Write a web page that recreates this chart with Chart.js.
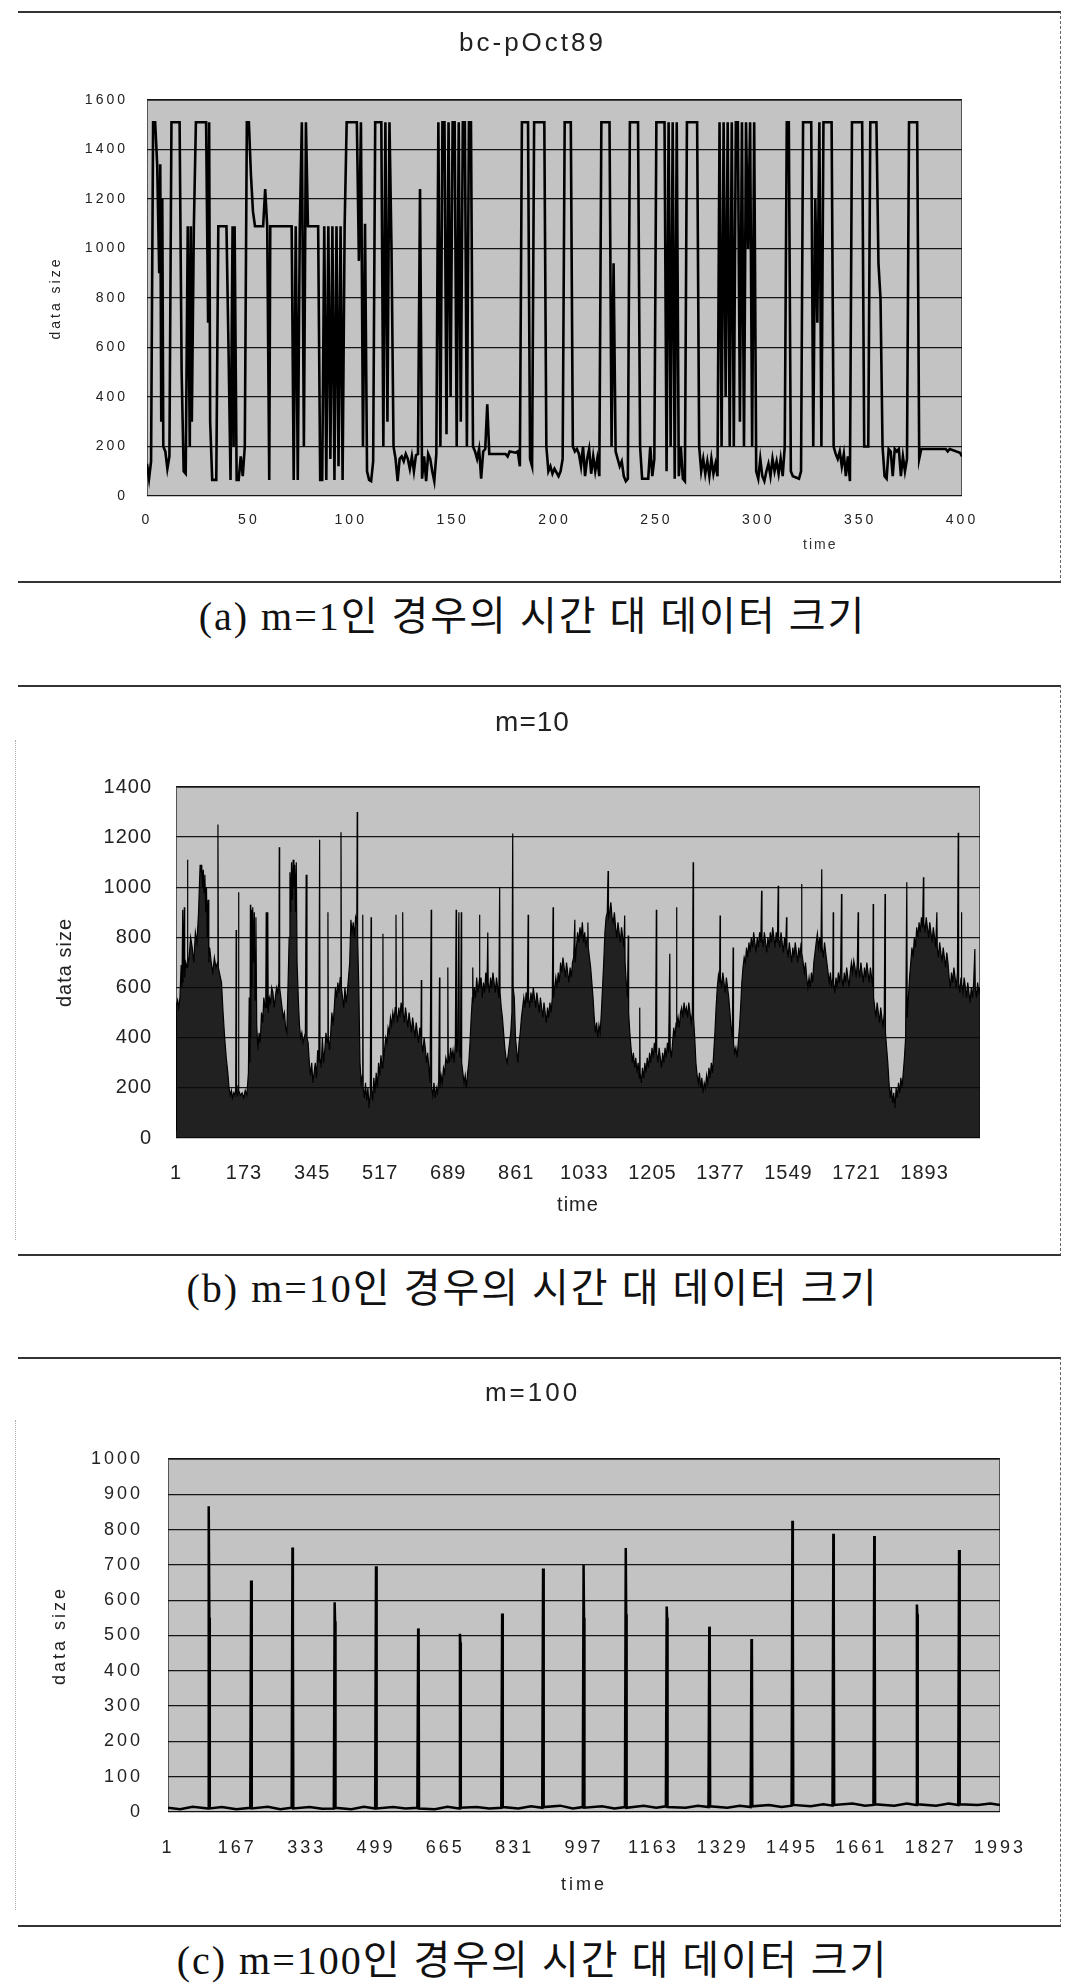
<!DOCTYPE html>
<html>
<head>
<meta charset="utf-8">
<script src="https://cdn.jsdelivr.net/npm/chart.js@4.4.1/dist/chart.umd.min.js"></script>
<style>
  body { margin: 0; background: #fff; width: 1065px; height: 1987px; position: relative; overflow: hidden; }
  .box { position: absolute; left: 18px; width: 1042px; border-top: 2px solid #333; border-bottom: 2px solid #333; border-right: 1px dashed #666; }
  .lside { position: absolute; left: 15px; border-left: 1px dotted #aaa; }
  canvas { position: absolute; left: 0; }
  .cap { position: absolute; left: 0; width: 1065px; text-align: center; font-family: "Liberation Serif", "Noto Sans CJK KR", serif; font-size: 40px; line-height: 46px; letter-spacing: 2px; color: #111; }
  .xt { position: absolute; font-family: "Liberation Sans", sans-serif; font-size: 14px; letter-spacing: 2px; color: #333; }
</style>
</head>
<body>
<div class="box" style="top:11px;height:568px"></div>
<canvas id="c1" width="1065" height="568" style="top:12px"></canvas>
<div class="xt" style="left:803px;top:536px">time</div>
<div class="cap" style="top:594px">(a) m=1인 경우의 시간 대 데이터 크기</div>

<div class="box" style="top:685px;height:567px"></div>
<div class="lside" style="top:740px;height:500px"></div>
<canvas id="c2" width="1065" height="567" style="top:686px"></canvas>
<div class="cap" style="top:1266px">(b) m=10인 경우의 시간 대 데이터 크기</div>

<div class="box" style="top:1357px;height:566px"></div>
<div class="lside" style="top:1420px;height:490px"></div>
<canvas id="c3" width="1065" height="566" style="top:1358px"></canvas>
<div class="cap" style="top:1938px">(c) m=100인 경우의 시간 대 데이터 크기</div>

<script>
// (a) m=1, trace bc-pOct89: [time, data size]
const traceM1 = [
  [0,130],[1,70],[2,140],[3,1510],[4,1510],[5,1340],[6,900],[6.5,1340],[7,300],[7.5,1200],[8,200],[9,180],[10,110],[11,160],
  [12,1510],[16,1510],[17,500],[18,100],[19,90],[20,1090],[21,200],[21.5,1090],[22,300],[23,1090],[24,1510],[29,1510],[30,700],[30.5,1510],
  [31,300],[32,65],[34,65],[35,1090],[39,1090],[40,600],[41,65],[42,1090],[42.5,200],[43,1090],[44,65],[45,65],[46,160],[47,80],[48,200],
  [49,1510],[50,1510],[51,1300],[52,1150],[53,1090],[57,1090],[58,1240],[59,1090],[60,65],[60.5,1090],[71,1090],[72,65],[73,1090],[74,65],
  [75,1090],[76,1510],[77,200],[78,1510],[79,1090],[84,1090],[85,65],[86,65],[87,1090],[88,65],[89,1090],[90,150],[91,1090],[92,65],
  [93,1090],[94,120],[95,1090],[96,65],[97,1090],[98,1510],[103,1510],[104,950],[105,1510],[106,200],[107,1100],[108,100],[109,65],[110,60],
  [111,140],[112,1510],[115,1510],[116,200],[117,1510],[118,300],[119,1510],[120,1000],[121,200],[122,150],[123,60],[124,150],[125,160],
  [126,140],[127,170],[128,150],[129,110],[130,160],[131,100],[132,165],[133,170],[134,1240],[135,70],[136,160],[137,60],[138,170],[139,150],
  [140,100],[141,60],[142,170],[143,1510],[144,200],[145,1510],[146,1510],[147,250],[148,1510],[149,400],[150,1510],[151,1510],[152,200],
  [153,1510],[154,300],[155,1510],[156,1510],[157,200],[158,1510],[159,1510],[160,200],[161,180],[162,150],[163,190],[164,70],[165,180],
  [166,190],[167,370],[168,170],[176,170],[177,160],[178,180],[181,175],[182,180],[183,120],[184,1510],[187,1510],[188,150],[189,120],
  [190,1510],[195,1510],[196,200],[197,100],[198,120],[199,90],[200,110],[202,80],[203,100],[204,150],[205,1510],[208,1510],[209,200],
  [210,180],[211,190],[212,170],[213,120],[214,200],[215,80],[216,150],[217,190],[218,90],[219,160],[220,100],[221,150],[222,80],
  [223,1510],[227,1510],[228,200],[229,940],[230,180],[231,150],[232,120],[233,140],[234,80],[235,60],[236,70],[237,1510],[241,1510],
  [242,200],[243,70],[246,70],[247,200],[248,80],[249,150],[250,1510],[254,1510],[255,100],[256,1510],[257,200],[258,1510],[259,70],
  [260,1510],[261,80],[262,200],[263,70],[264,60],[265,1510],[270,1510],[271,200],[272,100],[273,150],[274,90],[275,140],[276,80],
  [277,150],[278,90],[279,130],[280,80],[281,1510],[282,200],[283,1510],[284,400],[285,1510],[286,200],[287,1510],[288,200],[289,1510],
  [290,1510],[291,300],[292,1510],[293,200],[294,1510],[295,1000],[296,1510],[297,200],[298,1510],[299,100],[300,70],[301,150],[302,80],
  [303,60],[304,100],[305,130],[306,80],[307,150],[308,100],[309,140],[310,90],[311,150],[312,80],[313,200],[314,1510],[315,1510],
  [316,100],[317,80],[320,70],[321,100],[322,1510],[326,1510],[327,200],[328,1200],[329,700],[330,1510],[331,200],[332,1510],[336,1510],
  [337,200],[338,170],[339,150],[340,180],[341,120],[342,170],[343,80],[344,160],[345,60],[346,1510],[351,1510],[352,200],[354,200],
  [355,1510],[358,1510],[359,940],[360,800],[361,200],[362,80],[363,70],[364,190],[365,180],[366,80],[367,190],[368,180],[369,190],
  [370,80],[371,160],[372,100],[373,150],[374,1510],[378,1510],[379,150],[380,190],[392,190],[393,180],[394,190],[399,175],[400,160]
];

// (b) m=10: tick labels and [time, data size]
const xTicksM10 = [1, 173, 345, 517, 689, 861, 1033, 1205, 1377, 1549, 1721, 1893];
const traceM10 = [
  [1,30],[2,530],[5,550],[8,520],[11,560],[14,690],[16,600],[18,910],[19,620],[22,920],[23,640],[26,700],[29,680],[30,1110],[31,690],
  [34,720],[38,800],[42,760],[46,700],[50,820],[54,780],[58,900],[60,1000],[62,1090],[64,1060],[66,1090],[68,1000],[70,1070],[72,980],
  [74,1050],[76,900],[78,1000],[80,800],[82,950],[84,700],[86,760],[90,700],[94,660],[98,720],[102,680],[106,700],[107,1250],[108,680],
  [112,650],[116,620],[120,500],[124,400],[128,320],[132,260],
  [135,200],[138,170],[141,190],[144,160],[147,180],[150,170],[152,200],[153,830],[154,180],[157,170],[158,210],[159,980],[160,190],
  [164,170],[168,180],[172,160],[176,190],[180,170],[184,260],[186,560],[188,300],[189,930],[190,400],[191,910],[193,600],[195,920],
  [197,700],[199,900],[201,550],[203,880],[205,450],
  [208,350],[211,420],[214,380],[217,500],[220,460],[223,560],[226,520],[228,560],[229,900],[230,540],[232,520],[233,900],[234,500],
  [237,560],[240,540],[243,600],[246,580],[249,520],[252,560],[255,600],[258,580],[261,620],[262,1160],[263,600],[266,560],[269,520],
  [272,480],[275,500],[278,440],
  [281,420],[284,600],[287,800],[289,1060],[291,900],[293,1100],[295,950],[297,1110],[299,1000],[301,1090],[303,900],[305,1100],[307,700],
  [310,560],[313,450],[316,400],[319,420],[322,380],[325,400],[328,420],[330,1050],[332,400],[335,380],[338,300],
  [341,250],[344,300],[347,220],[350,260],[353,300],[356,240],[359,350],[362,300],[364,1190],[365,320],[368,280],[371,400],[374,300],
  [377,350],[380,420],[383,380],[385,900],[386,400],[389,350],[392,420],[395,500],[398,450],[401,520],[404,600],
  [407,560],[410,620],[413,580],[416,640],[418,1220],[419,600],[422,560],[425,520],[428,600],[431,540],[434,580],[437,640],[440,700],
  [443,870],[446,820],[449,860],[452,800],[455,880],[458,860],[459,1300],[460,800],[463,600],
  [466,300],[469,220],[472,250],[473,890],[474,200],[477,160],[480,220],[483,150],[486,200],[489,120],[492,180],[494,880],[495,200],
  [498,150],[501,240],[504,180],[507,260],[510,200],[513,300],[516,250],[519,330],[522,280],[524,815],[525,300],[528,350],[531,400],
  [534,380],[537,440],[540,420],[543,480],[546,450],[549,500],[552,470],[555,520],[557,890],[558,500],[561,460],[564,520],[567,480],
  [570,540],[573,500],[574,900],[575,500],[578,460],[581,520],[584,480],[587,440],[590,500],[593,460],[596,420],[599,480],[602,440],
  [605,400],[608,460],[611,420],[614,380],[617,440],[620,400],[621,630],[622,380],[625,340],[628,400],[631,360],[634,300],[637,340],
  [640,280],
  [643,220],[646,910],[647,200],[650,170],[653,220],[656,160],[659,200],[662,180],[665,230],[667,640],[668,200],[671,250],[674,220],
  [677,280],[680,260],[683,320],[686,300],[688,680],[689,340],[692,300],[695,360],[698,320],[701,350],[704,300],[707,380],[709,910],
  [710,340],[713,380],[716,900],[717,350],[720,320],[722,900],[723,300],[726,260],[729,220],[732,250],[735,200],[738,260],[741,300],
  [744,380],
  [747,480],[750,560],[751,680],[752,540],[755,600],[758,560],[761,640],[764,580],[767,620],[768,890],[769,600],[772,640],[775,560],
  [778,620],[781,580],[784,660],[787,600],[789,820],[790,620],[793,580],[796,640],[799,600],[802,660],[805,620],[808,580],[811,640],
  [814,600],[817,560],[819,1000],[820,580],[823,520],[826,480],[829,420],[832,360],[835,320],
  [838,300],[841,340],[844,380],[847,420],[850,500],[852,1215],[853,600],[856,560],[859,400],[862,350],[865,300],[868,380],
  [871,420],[874,480],[877,520],[880,560],[883,520],[886,580],[889,540],[891,890],[892,560],[895,520],[898,580],[901,540],[904,600],
  [907,560],[910,520],[913,580],[916,540],[919,500],[922,560],[925,520],[928,480],[931,540],[934,500],[937,460],[940,520],[943,480],
  [946,540],[949,500],[952,560],
  [954,920],[955,560],[958,600],[961,640],[964,600],[967,660],[970,620],[973,700],[976,660],[979,720],[982,680],[985,640],[988,700],
  [991,660],[994,620],[997,680],[1000,640],[1003,700],[1006,720],[1009,870],[1010,700],
  [1013,760],[1016,820],[1019,780],[1022,840],[1025,800],[1028,860],[1031,780],[1034,820],[1037,760],[1040,800],[1042,860],[1043,760],
  [1046,720],[1049,680],[1052,620],[1055,560],[1058,480],[1061,420],[1064,460],[1067,400],[1070,450],[1073,420],[1076,500],[1079,600],
  [1082,700],[1085,820],[1088,880],[1091,900],[1093,1065],[1094,880],[1097,900],[1100,940],[1103,880],[1106,860],[1109,900],[1112,840],
  [1115,800],[1118,860],[1121,820],[1124,780],[1127,840],[1130,800],[1133,760],[1135,887],[1136,700],[1139,620],[1142,560],[1144,808],
  [1145,500],
  [1148,420],[1151,360],[1154,300],[1157,340],[1160,280],[1163,320],[1166,260],[1169,300],[1172,240],[1173,520],[1174,260],[1177,220],
  [1180,280],[1183,240],[1186,300],[1189,260],[1192,320],[1195,280],[1198,340],[1201,300],[1204,360],[1207,320],[1210,380],[1213,340],
  [1215,910],[1216,340],[1219,300],[1222,360],[1225,320],[1228,280],[1231,340],[1234,300],[1237,360],[1240,320],[1243,380],[1246,340],
  [1249,735],[1250,360],[1253,320],[1256,380],[1259,440],[1262,400],[1265,460],[1266,920],[1267,440],[1270,480],[1273,440],[1276,500],
  [1279,520],[1282,480],[1285,540],[1288,500],[1291,520],[1294,480],[1297,540],[1300,500],[1303,460],[1306,500],[1308,1100],[1309,480],
  [1312,400],
  [1315,300],[1318,250],[1321,220],[1324,260],[1327,200],[1330,240],[1333,180],[1336,220],[1339,200],[1342,250],[1345,220],[1348,280],
  [1351,240],[1354,300],[1357,260],[1360,340],[1363,420],
  [1366,520],[1369,600],[1372,650],[1375,620],[1376,887],[1377,640],[1380,600],[1383,660],[1386,620],[1389,580],[1392,640],[1395,600],
  [1398,560],[1401,500],[1404,440],[1407,400],[1409,760],[1410,380],[1413,340],[1416,360],[1419,320],[1422,380],[1425,440],[1428,520],
  [1431,620],[1434,680],[1437,720],[1440,700],[1443,760],[1446,720],[1449,780],[1452,740],[1455,800],[1458,760],[1461,820],[1464,780],
  [1467,740],[1470,800],[1473,760],[1476,820],[1479,780],[1481,986],[1482,800],[1485,760],[1488,820],[1491,780],[1494,740],[1497,800],
  [1500,760],[1503,820],[1506,780],[1509,840],[1512,800],[1515,760],[1518,820],[1521,780],[1523,1006],[1524,800],[1527,760],[1530,820],
  [1533,780],[1536,740],[1539,800],[1542,760],[1544,880],[1545,760],[1548,720],[1551,780],[1554,740],[1557,700],[1560,760],[1563,720],
  [1566,780],[1569,740],[1572,700],[1575,760],[1578,720],[1581,780],[1582,1013],[1583,740],[1586,700],[1589,660],[1592,700],[1595,640],
  [1598,600],
  [1601,640],[1604,600],[1607,660],[1610,620],[1613,700],[1616,740],[1619,780],[1622,815],[1625,760],[1628,800],[1631,740],[1633,1072],
  [1634,760],[1637,720],[1640,780],[1643,740],[1646,700],[1649,660],[1652,620],[1655,660],[1658,600],[1661,640],[1662,900],[1663,620],
  [1666,580],[1669,640],[1672,600],[1675,660],[1678,620],[1681,680],[1683,973],[1684,640],[1687,600],[1690,660],[1693,620],[1696,680],
  [1699,640],[1702,600],[1705,660],
  [1708,700],[1711,660],[1714,707],[1717,680],[1720,640],[1723,700],[1725,900],[1726,680],[1729,640],[1732,700],[1735,660],[1738,620],
  [1741,680],[1744,640],[1747,700],[1750,660],[1753,620],[1756,680],[1759,640],[1762,600],[1763,933],[1764,560],
  [1767,520],[1770,480],[1773,540],[1776,500],[1779,460],[1782,520],[1785,480],[1788,440],[1791,500],[1793,973],[1794,420],[1797,360],
  [1800,300],
  [1803,220],[1806,160],[1809,200],[1812,140],[1815,180],[1818,120],[1821,200],[1824,160],[1827,220],[1830,180],[1833,240],[1836,200],
  [1839,260],[1842,320],[1845,400],
  [1848,1020],[1849,480],[1852,560],[1855,640],[1858,700],[1861,760],[1864,720],[1867,800],[1870,760],[1873,840],[1876,800],[1879,860],
  [1882,820],[1885,880],[1888,840],[1890,1040],[1891,860],[1894,820],[1897,880],[1900,840],[1903,800],[1906,860],[1909,820],[1912,780],
  [1915,840],[1918,800],[1921,760],[1924,900],[1925,760],[1928,720],[1931,780],[1934,740],[1937,700],[1940,760],[1943,720],[1946,680],
  [1949,740],[1952,700],
  [1955,640],[1958,600],[1961,660],[1964,620],[1967,680],[1970,640],[1973,600],[1976,660],[1978,1218],[1979,620],[1982,580],[1985,640],
  [1986,900],[1987,620],[1990,580],[1993,640],[1996,600],[1999,560],[2002,620],[2005,580],[2008,540],[2011,600],[2014,560],[2017,620],
  [2020,754],[2021,600],[2024,560],[2027,620],[2030,580],[2033,600]
];

// (c) m=100: tick labels and [time, data size]
const xTicksM100 = [1, 167, 333, 499, 665, 831, 997, 1163, 1329, 1495, 1661, 1827, 1993];
const traceM100 = [
  [1,12],[30,8],[60,15],[97,10],[98,12],[99,866],[100,550],[101,10],[130,14],[165,8],[198,12],[200,656],[201,530],[202,10],
  [240,15],[270,8],[297,12],[299,749],[300,550],[301,10],[340,14],[370,9],[398,10],[400,594],[401,540],[402,12],[440,8],[470,15],
  [497,10],[499,696],[500,550],[501,10],[540,14],[570,10],[598,12],[600,520],[601,500],[602,10],[640,8],[670,15],[698,10],[700,505],
  [701,480],[702,12],[740,14],[770,10],[799,12],[801,562],[802,540],[803,14],[840,10],[870,16],[897,12],[899,690],[900,550],[901,14],
  [940,18],[970,10],[994,14],[996,700],[997,550],[998,12],[1040,16],[1070,10],[1095,14],[1097,748],[1098,560],[1099,12],[1140,18],
  [1170,12],[1193,16],[1195,582],[1196,550],[1197,14],[1240,12],[1270,18],[1295,14],[1297,525],[1298,500],[1299,16],[1340,12],
  [1370,18],[1396,14],[1398,490],[1399,470],[1400,16],[1440,20],[1470,14],[1494,18],[1496,825],[1497,560],[1498,20],[1540,16],
  [1570,22],[1592,18],[1594,788],[1595,570],[1596,20],[1640,24],[1670,18],[1690,20],[1692,782],[1693,560],[1694,22],[1740,18],
  [1770,24],[1792,20],[1794,588],[1795,560],[1796,22],[1840,18],[1870,24],[1893,20],[1895,742],[1896,560],[1897,22],[1940,20],
  [1970,24],[1993,20]
];

const toXY = pairs => pairs.map(([x, y]) => ({ x, y }));

// grey plot background + frame
const plotBg = {
  id: 'plotBg',
  beforeDraw(chart) {
    const { ctx, chartArea: a } = chart;
    ctx.save();
    ctx.fillStyle = '#c3c3c3';
    ctx.fillRect(a.left, a.top, a.width, a.height);
    ctx.strokeStyle = '#555';
    ctx.lineWidth = 1;
    ctx.strokeRect(a.left + 0.5, a.top + 0.5, a.width - 1, a.height - 1);
    ctx.restore();
  }
};

// the scanned labels are widely spaced
const spacing = px => ({
  id: 'spacing',
  beforeUpdate(chart) { chart.ctx.letterSpacing = px; },
  beforeDraw(chart) { chart.ctx.letterSpacing = px; }
});

// plain numbers, no thousands separator
const plain = v => String(v);

function makeChart(id, cfg) {
  const font = { family: '"Liberation Sans", Arial, sans-serif' };
  return new Chart(document.getElementById(id), {
    type: 'line',
    data: {
      datasets: [{
        data: toXY(cfg.trace),
        borderColor: '#000',
        borderWidth: cfg.lineWidth,
        backgroundColor: cfg.fillColor || 'transparent',
        fill: cfg.fillColor ? 'origin' : false,
        pointRadius: 0,
        tension: 0
      }]
    },
    options: {
      responsive: false,
      animation: false,
      layout: { padding: 0 },
      plugins: {
        legend: { display: false },
        tooltip: { enabled: false },
        title: {
          display: true,
          text: cfg.title,
          color: '#222',
          font: { ...font, size: cfg.titleSize, weight: 'normal' },
          padding: { top: cfg.titlePadTop, bottom: cfg.titlePadBottom }
        }
      },
      scales: {
        x: {
          type: 'linear',
          min: cfg.xMin,
          max: cfg.xMax,
          afterBuildTicks: cfg.xTicks ? (axis) => { axis.ticks = cfg.xTicks.map(v => ({ value: v })); } : undefined,
          afterFit: (s) => { s.height = cfg.xHeight; },
          grid: { display: false, drawTicks: false },
          border: { display: false },
          ticks: {
            stepSize: cfg.xStep,
            autoSkip: false,
            maxRotation: 0,
            color: '#222',
            padding: cfg.xTickPad,
            font: { ...font, size: cfg.tickSize },
            callback: plain
          },
          title: cfg.xTitle ? {
            display: true,
            text: 'time',
            color: '#222',
            font: { ...font, size: cfg.tickSize },
            padding: { top: 0, bottom: cfg.xTitlePad }
          } : { display: false }
        },
        y: {
          min: 0,
          max: cfg.yMax,
          afterFit: (s) => { s.width = cfg.yWidth; },
          grid: { color: '#151515', lineWidth: 1.3, drawTicks: false },
          border: { display: false },
          ticks: {
            stepSize: cfg.yStep,
            color: '#222',
            padding: cfg.yTickPad,
            font: { ...font, size: cfg.tickSize },
            callback: plain
          },
          title: {
            display: true,
            text: 'data size',
            color: '#222',
            font: { ...font, size: cfg.tickSize },
            padding: { top: cfg.yTitlePad, bottom: 0 }
          }
        },
        // empty right-hand axis: keeps the right margin while the title stays centred on the page
        margin: {
          position: 'right',
          min: 0,
          max: 1,
          afterFit: (s) => { s.width = cfg.rightMargin; },
          grid: { display: false, drawTicks: false },
          border: { display: false },
          ticks: { display: false }
        }
      }
    },
    plugins: [plotBg, spacing(cfg.spacing)]
  });
}

makeChart('c1', {
  trace: traceM1, lineWidth: 2.6, title: 'bc-pOct89', titleSize: 26, titlePadTop: 16.4, titlePadBottom: 40.4,
  rightMargin: 103, xMin: 0, xMax: 400, xStep: 50, xHeight: 84, xTickPad: 16, xTitle: false,
  yMax: 1600, yStep: 200, yWidth: 147, yTickPad: 19, yTitlePad: 48, tickSize: 14, spacing: '3px'
});

makeChart('c2', {
  trace: traceM10, lineWidth: 1.2, fillColor: 'rgba(10,10,10,0.88)', title: 'm=10', titleSize: 28,
  titlePadTop: 20.2, titlePadBottom: 47.2, rightMargin: 85, xMin: 1, xMax: 2033, xTicks: xTicksM10, xHeight: 115,
  xTickPad: 23, xTitle: true, xTitlePad: 36, yMax: 1400, yStep: 200, yWidth: 176, yTickPad: 24, yTitlePad: 53,
  tickSize: 20, spacing: '1px'
});

makeChart('c3', {
  trace: traceM100, lineWidth: 2.5, title: 'm=100', titleSize: 26, titlePadTop: 20.4, titlePadBottom: 49.4,
  rightMargin: 65, xMin: 1, xMax: 1993, xTicks: xTicksM100, xHeight: 112, xTickPad: 25, xTitle: true, xTitlePad: 28,
  yMax: 1000, yStep: 100, yWidth: 168, yTickPad: 25, yTitlePad: 49, tickSize: 18, spacing: '3px'
});
</script>
</body>
</html>
